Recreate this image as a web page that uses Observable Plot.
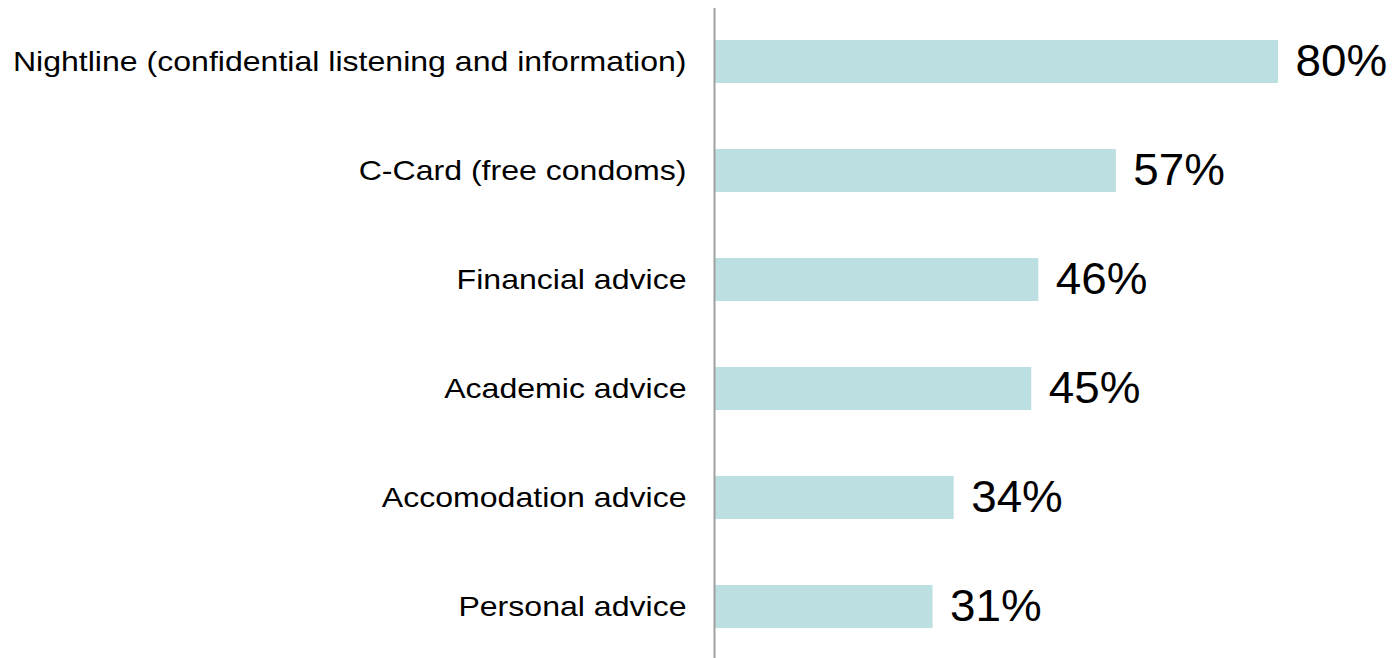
<!DOCTYPE html>
<html>
<head>
<meta charset="utf-8">
<script src="https://cdn.jsdelivr.net/npm/d3@7"></script>
<script src="https://cdn.jsdelivr.net/npm/@observablehq/plot@0.6"></script>
<style>
  html, body { margin: 0; padding: 0; background: #fff; }
  #chart svg { display: block; }
</style>
</head>
<body>
<div id="chart"></div>
<script>
const categories = [
  "Nightline (confidential listening and information)",
  "C-Card (free condoms)",
  "Financial advice",
  "Academic advice",
  "Accomodation advice",
  "Personal advice"
];
const values = [80, 57, 46, 45, 34, 31];

const data = categories.map((name, i) => ({name, value: values[i]}));

const chart = Plot.plot({
  width: 1394,
  height: 658,
  marginLeft: 714,
  marginRight: 116,
  marginTop: 8,
  marginBottom: 0,
  style: {fontFamily: "'Liberation Sans', Arial, sans-serif", background: "#fff"},
  x: {domain: [0, 80], axis: null},
  y: {domain: categories, paddingInner: 0.6055, paddingOuter: 0.2844, align: 0.516, round: false, label: null},
  marks: [
    Plot.barX(data, {x: "value", y: "name", fill: "#bce0e2"}),
    Plot.ruleX([0], {stroke: "#a0a0a0", strokeWidth: 2}),
    Plot.axisY({tickSize: 0, tickPadding: 28, fontSize: 28, fill: "#000", label: null}),
    Plot.text(data, {x: "value", y: "name", text: d => d.value + "%", textAnchor: "start", dx: 17, fontSize: 44, fill: "#000", className: "vlab"})
  ]
});
document.getElementById("chart").appendChild(chart);

// slight horizontal stretch of the text, as in the reference
function stretch(sel, k) {
  chart.querySelectorAll(sel).forEach(t => {
    const len = t.getComputedTextLength();
    t.setAttribute("textLength", len * k);
    t.setAttribute("lengthAdjust", "spacingAndGlyphs");
  });
}
stretch("g[aria-label='y-axis tick label'] text", 1.145);
stretch(".vlab text", 1.04);
</script>
</body>
</html>
